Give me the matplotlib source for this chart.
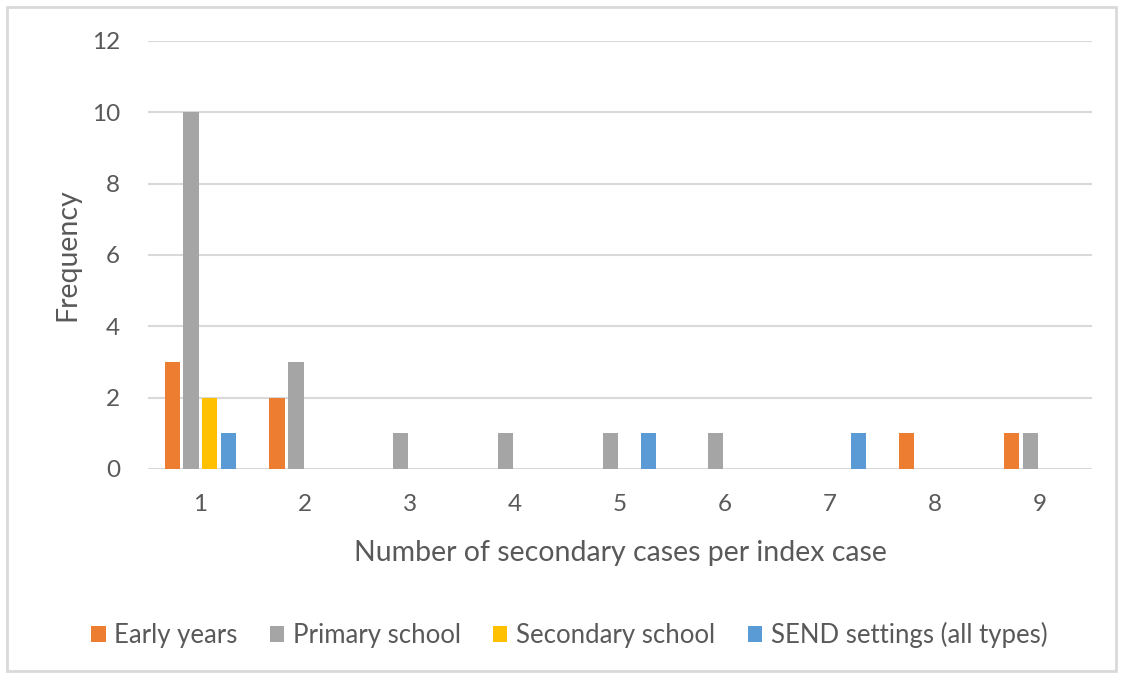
import matplotlib
matplotlib.use("Agg")
import matplotlib.pyplot as plt
import numpy as np
from matplotlib.patches import Rectangle

categories = [1, 2, 3, 4, 5, 6, 7, 8, 9]
series_names = ["Early years", "Primary school", "Secondary school", "SEND settings (all types)"]
early_years = [3, 2, 0, 0, 0, 0, 0, 1, 1]
primary_school = [10, 3, 1, 1, 1, 1, 0, 0, 1]
secondary_school = [2, 0, 0, 0, 0, 0, 0, 0, 0]
send_settings = [1, 0, 0, 0, 1, 0, 1, 0, 0]
colors = ["#ED7D31", "#A5A5A5", "#FFC000", "#5B9BD5"]
yticks = [0, 2, 4, 6, 8, 10, 12]

plt.rcParams['font.family'] = ['Lato', 'DejaVu Sans']
txt = "#595959"

fig = plt.figure(figsize=(11.23, 6.75), dpi=100)
ax = fig.add_axes([0.1318, 0.3052, 0.9724 - 0.1318, 0.9393 - 0.3052])

x = np.arange(len(categories))
width = 0.145
step = 0.18
all_series = [early_years, primary_school, secondary_school, send_settings]
for i, (vals, name, c) in enumerate(zip(all_series, series_names, colors)):
    ax.bar(x + (i - 1.5) * step, vals, width=width, color=c, label=name, zorder=3)

ax.set_xlim(-0.5, len(categories) - 0.5)
ax.set_ylim(0, 12)
ax.set_yticks(yticks)
ax.set_yticklabels([str(v) for v in yticks], fontsize=17.5, color=txt)
ax.set_xticks(x)
ax.set_xticklabels([str(c) for c in categories], fontsize=17.5, color=txt)
ax.tick_params(axis='both', length=0)
ax.tick_params(axis='y', pad=20)
ax.tick_params(axis='x', pad=18)
ax.grid(axis='y', color='#D9D9D9', linewidth=1.5, zorder=0)
for s in ax.spines.values():
    s.set_visible(False)

ax.set_xlabel("Number of secondary cases per index case", fontsize=20.5, color=txt, labelpad=18)
ax.set_ylabel("Frequency", fontsize=20.5, color=txt, labelpad=8)

leg = fig.legend(loc='center', bbox_to_anchor=(0.507, 1 - 635 / 675), ncol=4, frameon=False,
                 fontsize=18.5, handlelength=0.55, handleheight=0.55, handletextpad=0.35,
                 columnspacing=1.25)
for t in leg.get_texts():
    t.set_color(txt)

fig.patches.append(Rectangle((0.006, 0.006), 0.988, 0.984, transform=fig.transFigure,
                             fill=False, edgecolor='#D9D9D9', linewidth=2))

fig.savefig("out.png", dpi=100)
